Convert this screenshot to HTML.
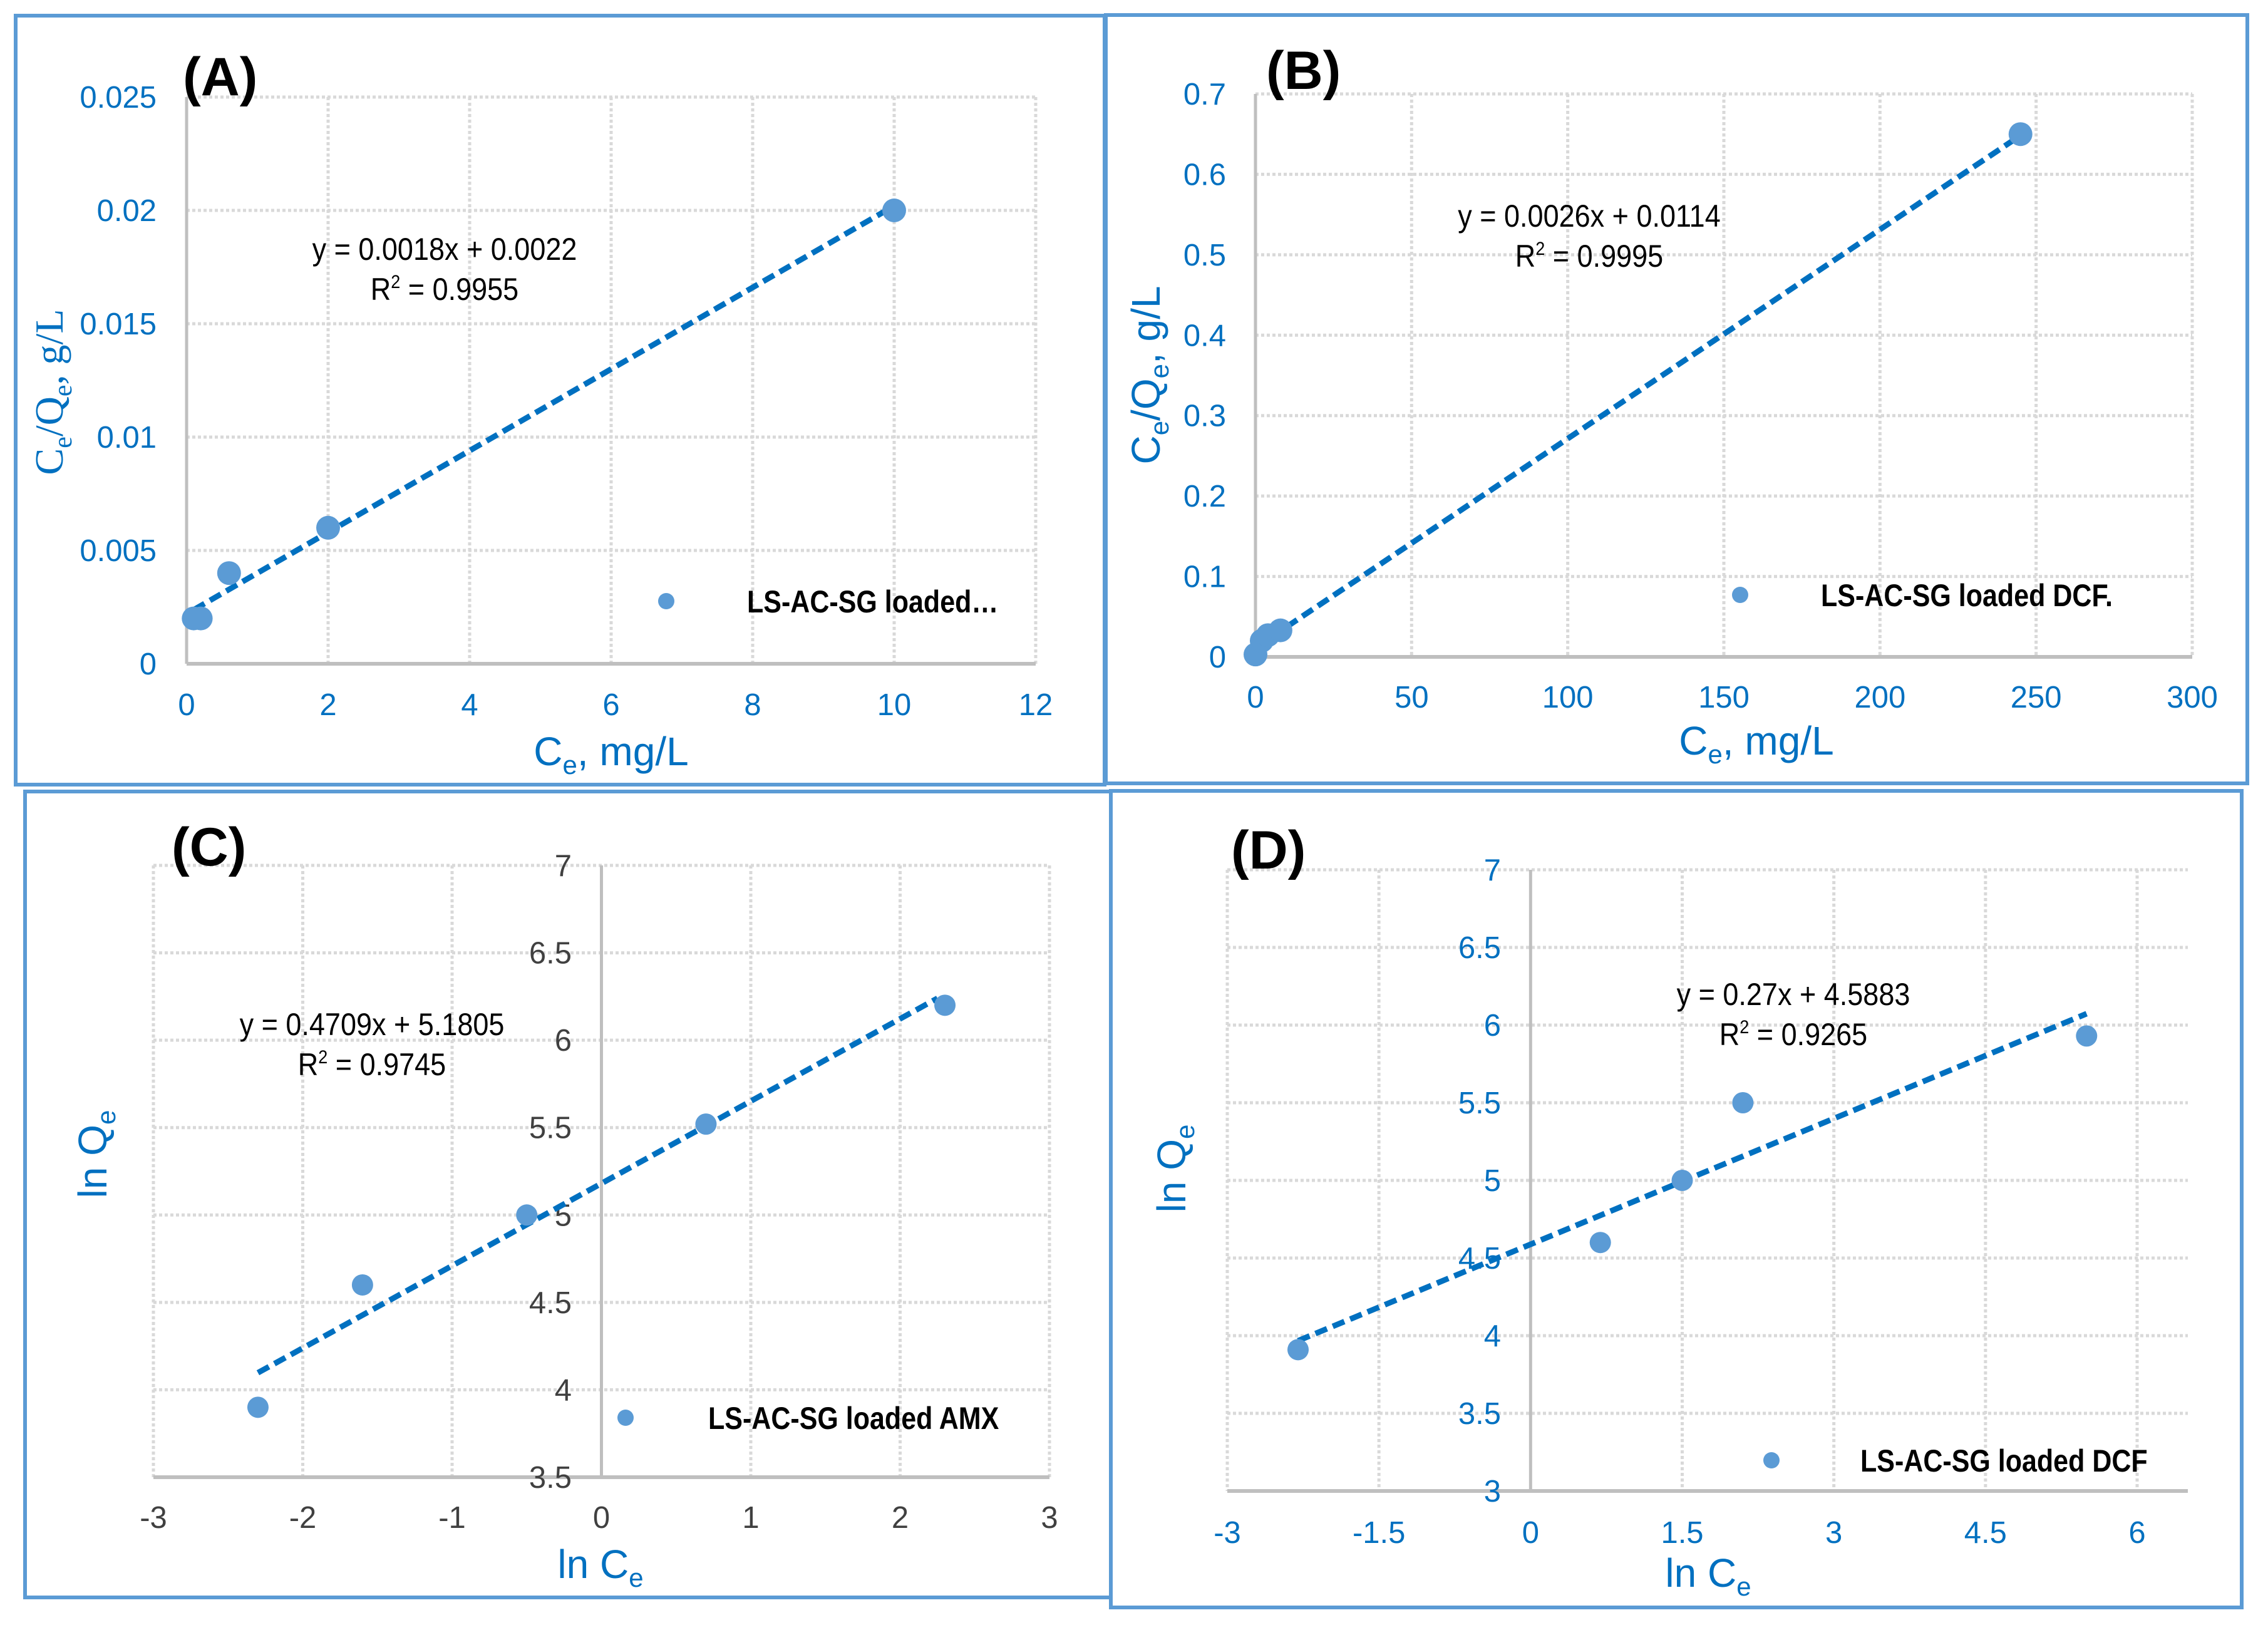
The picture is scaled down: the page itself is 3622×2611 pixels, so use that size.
<!DOCTYPE html>
<html><head><meta charset="utf-8"><style>
html,body{margin:0;padding:0;background:#fff;}
svg{display:block;}
</style></head><body>
<svg id="fig" width="3622" height="2611" viewBox="0 0 3622 2611" xmlns="http://www.w3.org/2000/svg" font-family="'Liberation Sans Narrow','Liberation Sans',sans-serif">
<rect x="0" y="0" width="3622" height="2611" fill="#fff"/>
<rect x="25" y="25" width="1739" height="1228" fill="none" stroke="#5B9BD5" stroke-width="6"/>
<rect x="1766" y="24" width="1823" height="1227" fill="none" stroke="#5B9BD5" stroke-width="6"/>
<rect x="40" y="1264" width="1734" height="1287" fill="none" stroke="#5B9BD5" stroke-width="6"/>
<rect x="1774" y="1263" width="1806" height="1304" fill="none" stroke="#5B9BD5" stroke-width="6"/>
<g id="layer"></g>
</svg>
<script>
// ---- Panel A data ----
const aX = [0.1, 0.2, 0.6, 2, 10];
const aY = [0.002, 0.002, 0.004, 0.006, 0.02];
const aXTicks = [0, 2, 4, 6, 8, 10, 12];
const aYTicks = [0, 0.005, 0.01, 0.015, 0.02, 0.025];
const aYTickLabels = ["0", "0.005", "0.01", "0.015", "0.02", "0.025"];
const aFit = [0.0018, 0.0022];
const aFitRange = [0.1, 10];
// ---- Panel B data ----
const bX = [0, 2, 4, 8, 245];
const bY = [0.003, 0.02, 0.027, 0.033, 0.65];
const bXTicks = [0, 50, 100, 150, 200, 250, 300];
const bYTicks = [0, 0.1, 0.2, 0.3, 0.4, 0.5, 0.6, 0.7];
const bYTickLabels = ["0", "0.1", "0.2", "0.3", "0.4", "0.5", "0.6", "0.7"];
const bFit = [0.0026, 0.0114];
const bFitRange = [0, 245];
// ---- Panel C data ----
const cX = [-2.3, -1.6, -0.5, 0.7, 2.3];
const cY = [3.9, 4.6, 5.0, 5.52, 6.2];
const cXTicks = [-3, -2, -1, 0, 1, 2, 3];
const cYTicks = [3.5, 4, 4.5, 5, 5.5, 6, 6.5, 7];
const cYTickLabels = ["3.5", "4", "4.5", "5", "5.5", "6", "6.5", "7"];
const cFit = [0.4709, 5.1805];
const cFitRange = [-2.3, 2.25];
// ---- Panel D data ----
const dX = [-2.3, 0.69, 1.5, 2.1, 5.5];
const dY = [3.91, 4.6, 5.0, 5.5, 5.93];
const dXTicks = [-3, -1.5, 0, 1.5, 3, 4.5, 6];
const dYTicks = [3, 3.5, 4, 4.5, 5, 5.5, 6, 6.5, 7];
const dYTickLabels = ["3", "3.5", "4", "4.5", "5", "5.5", "6", "6.5", "7"];
const dFit = [0.27, 4.5883];
const dFitRange = [-2.3, 5.5];

const NS = "http://www.w3.org/2000/svg";
const layer = document.getElementById("layer");
function mk(tag, attrs, parent) {
  const e = document.createElementNS(NS, tag);
  for (const k in attrs) e.setAttribute(k, attrs[k]);
  (parent || layer).appendChild(e);
  return e;
}
function txt(parent, x, y, s, size, fill, anchor, weight) {
  const t = mk("text", {x: x, y: y, "font-size": size, fill: fill, "text-anchor": anchor || "middle", "font-weight": weight || "normal"}, parent);
  t.textContent = s;
  return t;
}
function squeeze(t, f) {
  const w = t.getComputedTextLength();
  if (w > 0) { t.setAttribute("textLength", (w * f).toFixed(1)); t.setAttribute("lengthAdjust", "spacingAndGlyphs"); }
}

function panel(id, P, xs, ys, xT, yT, yTL, fit, fitR, lab) {
  const g = mk("g", {});
  
  
  const sx = v => P.x0 + (v - xT[0]) / (xT[xT.length - 1] - xT[0]) * (P.x1 - P.x0);
  const sy = v => P.y0 - (v - yT[0]) / (yT[yT.length - 1] - yT[0]) * (P.y0 - P.y1);
  const grid = "#D9D9D9", axis = "#BFBFBF";
  yT.forEach((v, i) => {
    if (i === 0) return;
    const l = mk("line", {x1: P.x0, x2: P.xEnd, y1: sy(v), y2: sy(v), stroke: grid, "stroke-width": 5, "stroke-dasharray": "5 4"}, g);
    
    
  });
  xT.forEach((v, i) => {
    if (v === P.yAxisAt) return;
    const l = mk("line", {x1: sx(v), x2: sx(v), y1: P.y1, y2: P.y0, stroke: grid, "stroke-width": 5, "stroke-dasharray": "5 4"}, g);
    
    
  });
  const ya = mk("line", {x1: sx(P.yAxisAt), x2: sx(P.yAxisAt), y1: P.y1, y2: P.y0, stroke: axis, "stroke-width": 5}, g);
  
  
  const xa = mk("line", {x1: P.x0, x2: P.xEnd, y1: P.y0, y2: P.y0, stroke: axis, "stroke-width": 6}, g);
  
  
  xT.forEach(v => {
    const t = txt(g, sx(v), P.xTickY, String(v), 49, P.xTickColor);
    
    
  });
  yT.forEach((v, i) => {
    const t = txt(g, P.yTickX, sy(v) + 17, yTL[i], 49, P.yTickColor, "end");
    
    
  });
  const tl = mk("line", {x1: sx(fitR[0]), y1: sy(fit[0] * fitR[0] + fit[1]), x2: sx(fitR[1]), y2: sy(fit[0] * fitR[1] + fit[1]), stroke: "#0070C0", "stroke-width": 9, "stroke-dasharray": "20 10"}, g);
  
  
  xs.forEach((v, i) => {
    const c = mk("circle", {cx: sx(v), cy: sy(ys[i]), r: P.r, fill: "#5B9BD5"}, g);
    
    
  });
  const e1 = txt(g, P.eqX, P.eqY, "y = " + fit[0] + "x + " + fit[1], 50, "#000");
  
  
  squeeze(e1, 0.9);
  const e2 = mk("text", {x: P.eqX, y: P.eqY + 64, "font-size": 50, fill: "#000", "text-anchor": "middle"}, g);
  
  
  e2.innerHTML = 'R<tspan font-size="30" dy="-19">2</tspan><tspan dy="19"> = ' + lab.r2 + '</tspan>';
  squeeze(e2, 0.9);
  const lm = mk("circle", {cx: P.legX, cy: P.legY, r: 13, fill: "#5B9BD5"}, g);
  
  
  const lt = txt(g, P.legTX, P.legY + 18, lab.legend, 50, "#000", "start", "bold");
  
  
  squeeze(lt, 0.86);
  const pt = txt(g, P.titleX, P.titleY, lab.title, 86, "#000", "start", "bold");
  
  
  const xt = mk("text", {x: P.xTitleX, y: P.xTitleY, "font-size": 64, fill: "#0070C0", "text-anchor": "middle"}, g);
  
  
  xt.innerHTML = lab.xTitle;
  const ytt = mk("text", {x: 0, y: 0, "font-size": 64, fill: "#0070C0", "text-anchor": "middle", transform: "translate(" + P.yTitleX + "," + P.yTitleY + ") rotate(-90)"}, g);
  if (lab.serif) ytt.setAttribute('style', 'font-family:"Liberation Serif",serif');
  
  
  ytt.innerHTML = lab.yTitle;
}

const sub = s => '<tspan font-size="42" dy="14">' + s + '</tspan><tspan dy="-14">';
const ceMg = 'C' + sub('e') + ', mg/L</tspan>';
const ceQe = 'C' + sub('e') + '/Q</tspan>' + sub('e') + ', g/L</tspan>';
const lnC = 'ln C' + sub('e') + '</tspan>';
const lnQ = 'ln Q' + sub('e') + '</tspan>';

panel("a", {x0: 298, x1: 1654, xEnd: 1654, y0: 1060, y1: 155, yAxisAt: 0, r: 19,
  xTickY: 1142, yTickX: 250, xTickColor: "#0070C0", yTickColor: "#0070C0",
  eqX: 710, eqY: 415, legX: 1064, legY: 960, legTX: 1193,
  titleX: 292, titleY: 152, xTitleX: 976, xTitleY: 1222, yTitleX: 100, yTitleY: 626},
  aX, aY, aXTicks, aYTicks, aYTickLabels, aFit, aFitRange,
  {r2: "0.9955", legend: "LS-AC-SG loaded…", title: "(A)", xTitle: ceMg, yTitle: ceQe, serif: true});

panel("b", {x0: 2005, x1: 3501, xEnd: 3501, y0: 1049, y1: 150, yAxisAt: 0, r: 19,
  xTickY: 1130, yTickX: 1958, xTickColor: "#0070C0", yTickColor: "#0070C0",
  eqX: 2538, eqY: 362, legX: 2779, legY: 950, legTX: 2908,
  titleX: 2022, titleY: 142, xTitleX: 2805, xTitleY: 1205, yTitleX: 1852, yTitleY: 599},
  bX, bY, bXTicks, bYTicks, bYTickLabels, bFit, bFitRange,
  {r2: "0.9995", legend: "LS-AC-SG loaded DCF.", title: "(B)", xTitle: ceMg, yTitle: ceQe});

panel("c", {x0: 245, x1: 1676, xEnd: 1676, y0: 2359, y1: 1382, yAxisAt: 0, r: 17,
  xTickY: 2440, yTickX: 913, xTickColor: "#404040", yTickColor: "#404040",
  eqX: 594, eqY: 1653, legX: 999, legY: 2264, legTX: 1131,
  titleX: 274, titleY: 1382, xTitleX: 959, xTitleY: 2520, yTitleX: 170, yTitleY: 1843},
  cX, cY, cXTicks, cYTicks, cYTickLabels, cFit, cFitRange,
  {r2: "0.9745", legend: "LS-AC-SG loaded AMX", title: "(C)", xTitle: lnC, yTitle: lnQ});

panel("d", {x0: 1960, x1: 3413, xEnd: 3494, y0: 2381, y1: 1389, yAxisAt: 0, r: 17,
  xTickY: 2464, yTickX: 2397, xTickColor: "#0070C0", yTickColor: "#0070C0",
  eqX: 2864, eqY: 1605, legX: 2829, legY: 2332, legTX: 2971,
  titleX: 1966, titleY: 1387, xTitleX: 2728, xTitleY: 2534, yTitleX: 1893, yTitleY: 1866},
  dX, dY, dXTicks, dYTicks, dYTickLabels, dFit, dFitRange,
  {r2: "0.9265", legend: "LS-AC-SG loaded DCF", title: "(D)", xTitle: lnC, yTitle: lnQ});
</script>
</body></html>
